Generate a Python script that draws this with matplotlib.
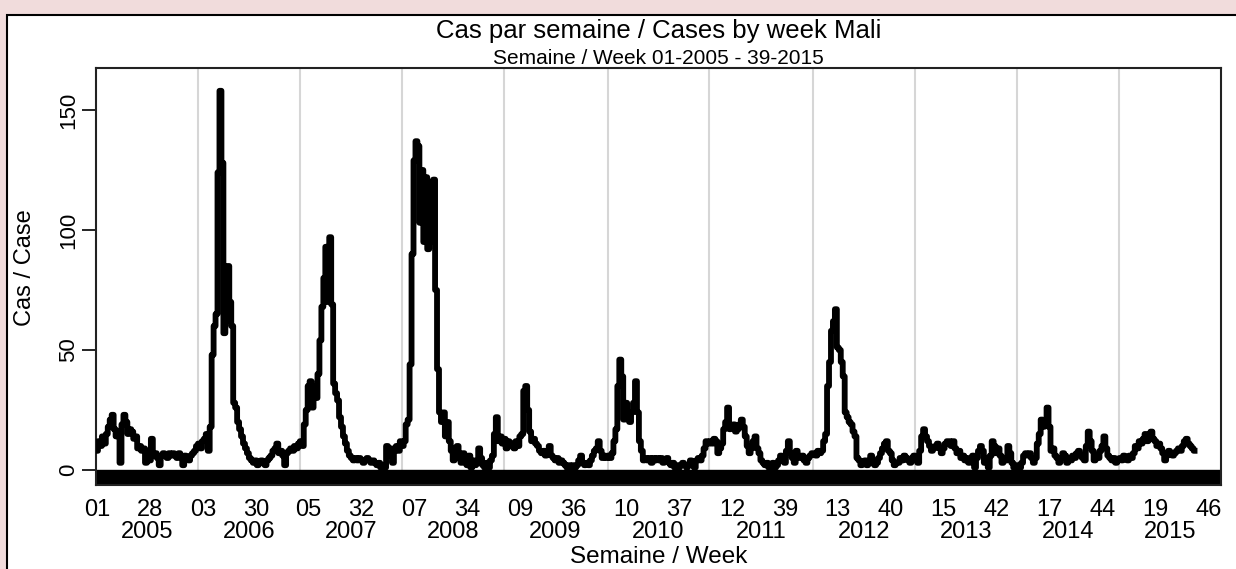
import numpy as np
import matplotlib.pyplot as plt
from matplotlib.patches import Rectangle
import matplotlib.transforms as mtransforms

plt.rcParams['font.family'] = ['Liberation Sans', 'DejaVu Sans']

# weekly cases, Mali, week 01-2005 to 39-2015
years = [2005, 2006, 2007, 2008, 2009, 2010, 2011, 2012, 2013, 2014, 2015]
weeks_in_year = [52, 52, 52, 52, 53, 52, 53, 52, 52, 52, 52]

cases_2005 = [8, 12, 10, 14, 11, 15, 18, 21, 23, 17, 14, 16, 3, 19, 23, 20, 15, 17, 16, 13,
              14, 9, 10, 8, 9, 3, 8, 4, 13, 6, 7, 5, 2, 6, 7, 6, 5, 7, 6, 7,
              6, 5, 7, 6, 2, 6, 5, 4, 6, 7, 8, 10]
cases_2006 = [11, 9, 12, 13, 15, 8, 18, 48, 60, 65, 124, 158, 128, 57, 62, 85, 70, 60, 28, 26,
              20, 17, 14, 11, 9, 7, 5, 4, 3, 4, 2, 3, 4, 3, 2, 4, 5, 6, 8, 9,
              11, 7, 8, 6, 2, 7, 8, 9, 8, 10, 9, 11]
cases_2007 = [12, 10, 19, 25, 35, 37, 26, 35, 30, 40, 54, 68, 80, 93, 70, 97, 69, 36, 32, 29,
              22, 18, 14, 11, 8, 6, 5, 4, 5, 4, 5, 4, 3, 4, 5, 4, 3, 4, 3, 2,
              3, 1, 2, 1, 10, 6, 9, 3, 8, 10, 8, 12]
cases_2008 = [10, 12, 19, 21, 44, 90, 129, 137, 135, 103, 125, 95, 122, 92, 120, 95, 121, 75, 42, 24,
              20, 24, 14, 20, 12, 8, 4, 9, 10, 5, 3, 7, 5, 2, 6, 1, 4, 2, 3, 9,
              5, 2, 1, 3, 1, 4, 6, 15, 22, 12, 14, 11]
cases_2009 = [13, 9, 12, 10, 11, 9, 12, 10, 14, 15, 33, 35, 25, 16, 12, 13, 11, 10, 8, 7,
              8, 6, 7, 10, 6, 5, 4, 5, 3, 4, 3, 2, 1, 2, 1, 2, 1, 2, 4, 6,
              3, 2, 3, 2, 4, 6, 8, 9, 12, 8, 5, 6, 5]
cases_2010 = [6, 5, 7, 12, 17, 35, 46, 39, 21, 28, 22, 20, 24, 28, 37, 24, 12, 8, 4, 5,
              4, 5, 3, 5, 4, 5, 4, 5, 3, 4, 5, 3, 2, 3, 1, 2, 1, 2, 3, 2,
              1, 2, 4, 2, 1, 4, 5, 4, 6, 9, 12, 11]
cases_2011 = [12, 11, 13, 12, 7, 9, 11, 17, 20, 26, 17, 18, 19, 16, 17, 19, 21, 18, 14, 10,
              7, 9, 12, 14, 9, 7, 4, 3, 2, 3, 1, 2, 3, 1, 2, 4, 6, 4, 3, 8,
              12, 7, 5, 3, 8, 6, 5, 6, 4, 3, 5, 6, 7]
cases_2012 = [7, 6, 8, 7, 8, 12, 15, 35, 45, 58, 62, 67, 51, 50, 45, 39, 24, 22, 20, 19,
              16, 14, 5, 4, 2, 3, 4, 2, 3, 6, 4, 2, 3, 5, 7, 9, 11, 12, 8, 7,
              4, 2, 3, 3, 5, 4, 6, 5, 4, 3, 5, 6]
cases_2013 = [4, 3, 8, 14, 17, 14, 12, 10, 8, 9, 10, 11, 9, 7, 9, 11, 12, 12, 10, 12,
              9, 7, 8, 5, 6, 4, 5, 3, 4, 6, 1, 5, 8, 10, 8, 3, 5, 1, 6, 12,
              10, 7, 9, 6, 3, 5, 4, 10, 7, 3, 1, 2]
cases_2014 = [2, 1, 3, 6, 7, 6, 7, 5, 3, 5, 11, 15, 21, 18, 20, 26, 18, 8, 9, 6,
              5, 3, 5, 7, 6, 3, 5, 4, 6, 5, 7, 8, 6, 5, 4, 10, 16, 12, 8, 4,
              6, 5, 8, 10, 14, 9, 6, 5, 4, 5, 3, 4]
cases_2015 = [5, 4, 6, 5, 4, 6, 5, 7, 10, 9, 12, 11, 13, 15, 12, 14, 16, 13, 12, 10,
              11, 9, 7, 4, 6, 8, 7, 6, 7, 8, 9, 8, 10, 12, 13, 11, 10, 9, 8]

tick_weeks = ['01', '28', '03', '30', '05', '32', '07', '34', '09', '36', '10',
              '37', '12', '39', '13', '40', '15', '42', '17', '44', '19', '46']
tick_years = [2005, 2005, 2006, 2006, 2007, 2007, 2008, 2008, 2009, 2009, 2010,
              2010, 2011, 2011, 2012, 2012, 2013, 2013, 2014, 2014, 2015, 2015]
y_ticks = [0, 50, 100, 150]

title = 'Cas par semaine / Cases by week Mali'
subtitle = 'Semaine / Week 01-2005 - 39-2015'

# week index of each year's first week
starts = np.cumsum([0] + weeks_in_year[:-1])
year_start = dict(zip(years, starts))

series = [cases_2005, cases_2006, cases_2007, cases_2008, cases_2009, cases_2010,
          cases_2011, cases_2012, cases_2013, cases_2014, cases_2015]
x = np.concatenate([s + np.arange(len(v)) for s, v in zip(starts, series)])
y = np.concatenate(series)

W, H = 1236, 569
fig = plt.figure(figsize=(W / 100, H / 100), dpi=100)
fig.patch.set_facecolor('#f1dcdc')
panel = Rectangle((7 / W, -0.05), 1.1, (H - 15) / H + 0.05, transform=fig.transFigure,
                  facecolor='white', edgecolor='black', lw=1.5, zorder=0)
fig.add_artist(panel)

ax = fig.add_axes([96 / W, 1 - 485 / H, (1221 - 96) / W, (485 - 68) / H])
ax.set_xlim(-0.5, sum(weeks_in_year) - 0.5)
ax.set_ylim(-6.25, 167.5)

for s in starts[1:]:
    ax.axvline(s - 0.5, color='#d6d6d6', lw=1.5, zorder=1)
ax.axhspan(-10, 0, color='black', zorder=2)
ax.plot(x, y, color='black', lw=4.2, drawstyle='steps-mid', zorder=3)

for sp in ax.spines.values():
    sp.set_linewidth(1.5)
    sp.set_color('#222222')

ax.set_yticks(y_ticks)
ax.set_yticklabels([str(v) for v in y_ticks], rotation=90, va='center')
ax.tick_params(axis='y', length=10, width=1.2, pad=2, labelsize=16)

ax.set_xticks([year_start[yr] + int(wk) - 1 for wk, yr in zip(tick_weeks, tick_years)])
ax.set_xticklabels(tick_weeks)
ax.tick_params(axis='x', length=0, pad=10, labelsize=17)

trans = mtransforms.blended_transform_factory(ax.transData, ax.transAxes)
for yr, s, n in zip(years, starts, weeks_in_year):
    ax.text(s + n / 2 - 0.5, -0.112, str(yr), transform=trans, ha='center', va='center', fontsize=17)

cx = 658.5 / W
fig.text(cx, 1 - 31 / H, title, ha='center', va='center', fontsize=18.5)
fig.text(cx, 1 - 58 / H, subtitle, ha='center', va='center', fontsize=15)
fig.text(cx, 1 - 557 / H, 'Semaine / Week', ha='center', va='center', fontsize=17.5)
fig.text(25 / W, 1 - 268 / H, 'Cas / Case', rotation=90, ha='center', va='center', fontsize=17)

fig.savefig('out.png', dpi=100, facecolor=fig.get_facecolor())
